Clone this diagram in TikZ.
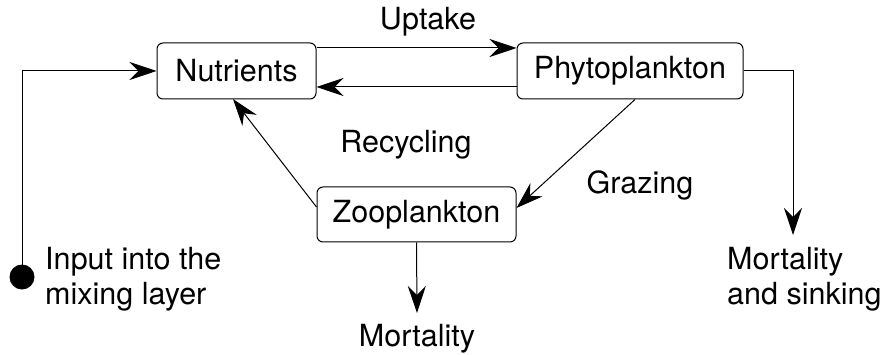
\documentclass[tikz,border=0pt]{standalone}
\usepackage{fontspec}
\setmainfont{TeX Gyre Heros}
\usetikzlibrary{arrows.meta}
\begin{document}
\begin{tikzpicture}[x=1pt,y=-1pt,
  box/.style={draw, rounded corners=6pt, line width=1pt, inner sep=0pt},
  lbl/.style={font=\fontsize{30.5}{35}\selectfont, inner sep=0pt},
  flow/.style={line width=1pt, -{Stealth[length=27pt,width=18pt,inset=9pt]}}]
\useasboundingbox (0,0) rectangle (888,355);
\node[box, minimum width=159pt, minimum height=56pt, lbl] (nut) at (236.5,71) {Nutrients};
\node[box, minimum width=226pt, minimum height=56pt, lbl] (phy) at (630,71) {Phytoplankton};
\node[box, minimum width=199pt, minimum height=55pt, lbl] (zoo) at (416.5,214.5) {Zooplankton};
\fill (22,277) circle (12.5pt);
\coordinate (src) at (22,277);
\node[lbl, anchor=west, align=left] (inp) at (45,279) {Input into the\\mixing layer};
\node[lbl] (upt) at (428,22) {Uptake};
\node[lbl] (rec) at (406,145) {Recycling};
\node[lbl] (gra) at (640,185) {Grazing};
\node[lbl] (zm) at (417,339) {Mortality};
\node[lbl, anchor=west, align=left] (pm) at (727,279) {Mortality\\and sinking};
\coordinate (zmend) at (417,313);
\coordinate (pmend) at (793,235);
\draw[flow] (src) -- (22,71) -- (nut.west);
\draw[flow] ([yshift=23pt]nut.east) -- ([yshift=23pt]phy.west);
\draw[flow] ([yshift=-16pt]phy.west) -- ([yshift=-16pt]nut.east);
\draw[flow] (phy.south) ++(5,0) coordinate (g1) (g1) -- ([yshift=6.5pt]zoo.east);
\draw[flow] ([yshift=7.5pt]zoo.west) -- (233,99);
\draw[flow] (zoo.south) -- (zmend);
\draw[flow] (phy.east) -- (793,71) -- (pmend);
\end{tikzpicture}
\end{document}
